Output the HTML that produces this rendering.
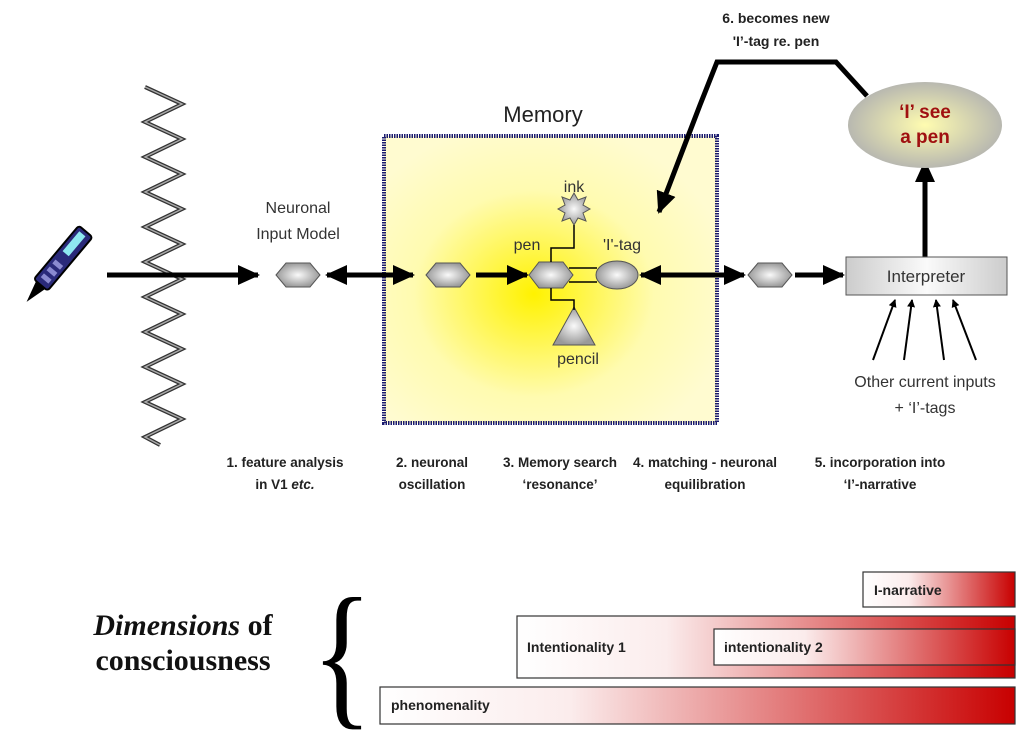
<!DOCTYPE html>
<html><head><meta charset="utf-8"><style>
body{margin:0;background:#fff;}
text{font-family:"Liberation Sans",sans-serif;}
.sf{font-family:"Liberation Serif",serif;}
</style></head><body>
<svg width="1024" height="734" viewBox="0 0 1024 734" xmlns="http://www.w3.org/2000/svg">
<defs>
<radialGradient id="hx" cx="50%" cy="50%" r="50%"><stop offset="0" stop-color="#fafafa"/><stop offset="1" stop-color="#9a9a9a"/></radialGradient>
<radialGradient id="mem" cx="45%" cy="55%" r="60%"><stop offset="0" stop-color="#fff200"/><stop offset="0.6" stop-color="#fffbb0"/><stop offset="1" stop-color="#fffbd0"/></radialGradient>
<radialGradient id="ell" cx="50%" cy="50%" r="50%"><stop offset="0" stop-color="#fffcb0"/><stop offset="1" stop-color="#b8b8b0"/></radialGradient>
<linearGradient id="ip" x1="0" x2="1"><stop offset="0" stop-color="#ccc"/><stop offset="0.5" stop-color="#fafafa"/><stop offset="1" stop-color="#ccc"/></linearGradient>
<linearGradient id="rd" x1="0" x2="1"><stop offset="0" stop-color="#fff"/><stop offset="0.3" stop-color="#fbecec"/><stop offset="1" stop-color="#c80000"/></linearGradient>
<marker id="ah" viewBox="0 0 22 20" markerWidth="22" markerHeight="20" refX="20" refY="10" orient="auto-start-reverse" markerUnits="userSpaceOnUse"><path d="M0,0 L22,10 L0,20 z" fill="#000"/></marker>
<marker id="as" viewBox="0 0 8 8" markerWidth="8" markerHeight="8" refX="7" refY="4" orient="auto" markerUnits="userSpaceOnUse"><path d="M0,0 L8,4 L0,8 z" fill="#000"/></marker>
</defs>

<rect x="384" y="136" width="333" height="287" fill="url(#mem)" stroke="#1a1a6e" stroke-width="4" stroke-dasharray="1.5 1"/>
<text x="543" y="122" font-size="22" text-anchor="middle" fill="#222">Memory</text>

<polyline points="145,87 182,104 145,122 182,139 145,157 182,174 145,192 182,209 145,227 182,244 145,262 182,279 145,297 182,314 145,332 182,349 145,367 182,384 145,402 182,419 145,437 160,445" fill="none" stroke="#333" stroke-width="4"/>
<polyline points="145,87 182,104 145,122 182,139 145,157 182,174 145,192 182,209 145,227 182,244 145,262 182,279 145,297 182,314 145,332 182,349 145,367 182,384 145,402 182,419 145,437 160,445" fill="none" stroke="#aaa" stroke-width="1.5"/>

<g transform="translate(60,262) rotate(-50)">
<rect x="-30" y="-9" width="70" height="18" rx="3" fill="#2a2a7a" stroke="#000" stroke-width="2"/>
<rect x="10" y="-5" width="26" height="8" fill="#8ee8f0"/>
<rect x="-24" y="-5" width="5" height="10" fill="#8a8ad0"/><rect x="-15" y="-5" width="5" height="10" fill="#8a8ad0"/><rect x="-6" y="-5" width="5" height="10" fill="#8a8ad0"/>
<path d="M-30,-6 L-52,0 L-30,6 z" fill="#000"/>
</g>

<g stroke="#000" stroke-width="5" fill="none">
<line x1="107" y1="275" x2="258" y2="275" marker-end="url(#ah)"/>
<line x1="327" y1="275" x2="413" y2="275" marker-end="url(#ah)" marker-start="url(#ah)"/>
<line x1="476" y1="275" x2="527" y2="275" marker-end="url(#ah)"/>
<line x1="641" y1="275" x2="744" y2="275" marker-end="url(#ah)" marker-start="url(#ah)"/>
<line x1="795" y1="275" x2="843" y2="275" marker-end="url(#ah)"/>
<line x1="925" y1="257" x2="925" y2="162" marker-end="url(#ah)"/>
<polyline points="867,96 836,62 717,62 700,105 659,212" marker-end="url(#ah)"/>
</g>

<g fill="url(#hx)" stroke="#555" stroke-width="1">
<polygon points="276,275 286,263 310,263 320,275 310,287 286,287"/>
<polygon points="426,275 436,263 460,263 470,275 460,287 436,287"/>
<polygon points="529,275 539,262 563,262 573,275 563,288 539,288"/>
<polygon points="748,275 758,263 782,263 792,275 782,287 758,287"/>
<ellipse cx="617" cy="275" rx="21" ry="14"/>
<polygon points="574,193 578,200 586,197 583,205 590,209 583,213 586,221 578,218 574,225 570,218 562,221 565,213 558,209 565,205 562,197 570,200"/>
<polygon points="574,307 595,345 553,345"/>
</g>
<g stroke="#000" stroke-width="1.5" fill="none">
<polyline points="551,262 551,248 574,248 574,225"/>
<polyline points="551,288 551,300 574,300 574,310"/>
<line x1="569" y1="268" x2="597" y2="268"/><line x1="569" y1="282" x2="597" y2="282"/>
</g>
<text x="574" y="192" font-size="16" text-anchor="middle" fill="#333">ink</text>
<text x="527" y="250" font-size="16" text-anchor="middle" fill="#333">pen</text>
<text x="622" y="250" font-size="16" text-anchor="middle" fill="#333">'I'-tag</text>
<text x="578" y="364" font-size="16" text-anchor="middle" fill="#333">pencil</text>

<text x="298" y="213" font-size="16" text-anchor="middle" fill="#333">Neuronal</text>
<text x="298" y="239" font-size="16" text-anchor="middle" fill="#333">Input Model</text>

<rect x="846" y="257" width="161" height="38" fill="url(#ip)" stroke="#555"/>
<text x="926" y="282" font-size="17" text-anchor="middle" fill="#333">Interpreter</text>
<g stroke="#000" stroke-width="2" fill="none">
<line x1="873" y1="360" x2="895" y2="300" marker-end="url(#as)"/>
<line x1="904" y1="360" x2="912" y2="300" marker-end="url(#as)"/>
<line x1="944" y1="360" x2="936" y2="300" marker-end="url(#as)"/>
<line x1="976" y1="360" x2="953" y2="300" marker-end="url(#as)"/>
</g>
<text x="925" y="387" font-size="16" text-anchor="middle" fill="#333">Other current inputs</text>
<text x="925" y="413" font-size="16" text-anchor="middle" fill="#333">+ ‘I’-tags</text>

<ellipse cx="925" cy="125" rx="77" ry="43" fill="url(#ell)"/>
<text x="925" y="118" font-size="19" font-weight="bold" text-anchor="middle" fill="#a01010">‘I’ see</text>
<text x="925" y="143" font-size="19" font-weight="bold" text-anchor="middle" fill="#a01010">a pen</text>
<text x="776" y="23" font-size="14" font-weight="bold" text-anchor="middle" fill="#222">6. becomes new</text>
<text x="776" y="46" font-size="14" font-weight="bold" text-anchor="middle" fill="#222">'I’-tag re. pen</text>

<g font-size="13.5" font-weight="bold" fill="#222" text-anchor="middle">
<text x="285" y="467">1. feature analysis</text><text x="285" y="489">in V1 <tspan font-style="italic">etc.</tspan></text>
<text x="432" y="467">2. neuronal</text><text x="432" y="489">oscillation</text>
<text x="560" y="467">3. Memory search</text><text x="560" y="489">‘resonance’</text>
<text x="705" y="467">4. matching - neuronal</text><text x="705" y="489">equilibration</text>
<text x="880" y="467">5. incorporation into</text><text x="880" y="489">‘I’-narrative</text>
</g>

<text class="sf" x="183" y="635" font-size="30" font-weight="bold" text-anchor="middle" fill="#111"><tspan font-style="italic">Dimensions</tspan> of</text>
<text class="sf" x="183" y="670" font-size="30" font-weight="bold" text-anchor="middle" fill="#111">consciousness</text>
<text class="sf" x="0" y="0" font-size="160" text-anchor="middle" fill="#000" transform="translate(342,708) scale(0.8,1)">{</text>

<g stroke="#333" stroke-width="1.2">
<rect x="863" y="572" width="152" height="35" fill="url(#rd)"/>
<rect x="517" y="616" width="498" height="62" fill="url(#rd)"/>
<rect x="714" y="629" width="301" height="36" fill="url(#rd)"/>
<rect x="380" y="687" width="635" height="37" fill="url(#rd)"/>
</g>
<g font-size="14" font-weight="bold" fill="#222">
<text x="874" y="595">I-narrative</text>
<text x="527" y="652">Intentionality 1</text>
<text x="724" y="652">intentionality 2</text>
<text x="391" y="710">phenomenality</text>
</g>
</svg>
</body></html>
